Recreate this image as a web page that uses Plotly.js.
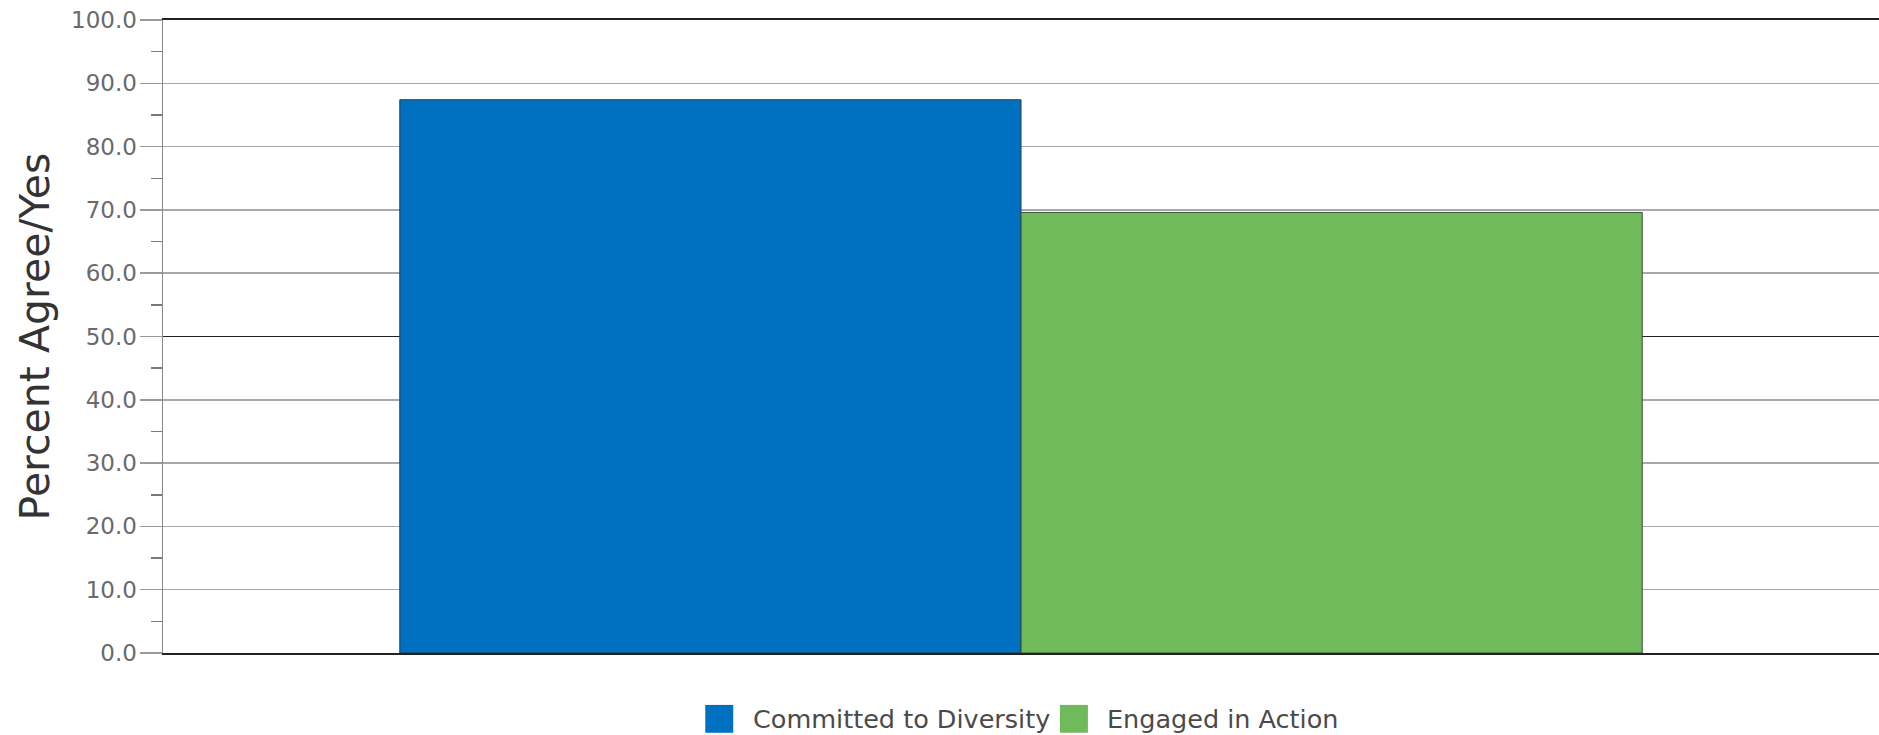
<!DOCTYPE html>
<html>
<head>
<meta charset="utf-8">
<script src="https://cdn.plot.ly/plotly-3.0.1.min.js"></script>
<style>
html,body{margin:0;padding:0;background:#fff;}
#chart{width:1879px;height:735px;}
</style>
</head>
<body>
<div id="chart"></div>
<script>
// ---- data ----
const categories = ["All"];
const seriesNames = ["Committed to Diversity", "Engaged in Action"];
const committedValues = [87.4];
const engagedValues = [69.6];
const seriesColors = ["#0070C0", "#70BA5C"];
const yAxisTitle = "Percent Agree/Yes";
const yTickVals = [0, 10, 20, 30, 40, 50, 60, 70, 80, 90, 100];
const yTickText = yTickVals.map(v => v.toFixed(1));
const darkGridVals = [50];

const font = "DejaVu Sans, Verdana, sans-serif";

const traces = [
  {
    type: "bar", x: categories, y: committedValues, name: seriesNames[0],
    marker: {color: seriesColors[0], line: {color: "#2b3a3a", width: 1}},
    showlegend: false, hoverinfo: "y"
  },
  {
    type: "bar", x: categories, y: engagedValues, name: seriesNames[1],
    marker: {color: seriesColors[1], line: {color: "#3b4a3a", width: 1}},
    showlegend: false, hoverinfo: "y"
  },
  // invisible trace on overlay axis to carry the dark 50 gridline
  {
    type: "scatter", x: categories, y: [null], yaxis: "y2",
    showlegend: false, hoverinfo: "skip"
  }
];

// custom legend (swatches + text) in paper coordinates
const legendY = -0.104;
const sw = 0.0163, sh = 0.044;
const legendItems = [
  {x0: 0.316, tx: 0.3425},
  {x0: 0.5227, tx: 0.549}
];
const shapes = legendItems.map((it, i) => ({
  type: "rect", xref: "paper", yref: "paper",
  x0: it.x0, x1: it.x0 + sw, y0: legendY - sh / 2, y1: legendY + sh / 2,
  fillcolor: seriesColors[i], line: {width: 0}
}));
const annotations = legendItems.map((it, i) => ({
  xref: "paper", yref: "paper", x: it.tx, y: legendY,
  xanchor: "left", yanchor: "middle", showarrow: false,
  text: seriesNames[i], font: {family: font, size: 25.5, color: "#4a4a4a"}
}));

const layout = {
  width: 1879, height: 735,
  margin: {l: 163, r: 0, t: 20, b: 82, pad: 0},
  paper_bgcolor: "#fff", plot_bgcolor: "#fff",
  barmode: "group", bargap: 0.276, bargroupgap: 0,
  showlegend: false,
  xaxis: {
    range: [-0.5, 0.5], showticklabels: false, ticks: "",
    showgrid: false, zeroline: false, showline: true, mirror: true,
    linecolor: "#222", linewidth: 2, fixedrange: true
  },
  yaxis: {
    range: [0, 100], tickvals: yTickVals, ticktext: yTickText,
    ticks: "outside", ticklen: 22, tickwidth: 1.5, tickcolor: "#9a9a9a",
    ticklabelstandoff: -2,
    showgrid: true, gridcolor: "#a8a8a8", gridwidth: 1.5,
    zeroline: false, showline: true, linecolor: "#8a8a8a", linewidth: 1.5,
    tickfont: {family: font, size: 23, color: "#6a6a6a"},
    title: {text: yAxisTitle, font: {family: font, size: 41, color: "#333"}, standoff: 8},
    minor: {dtick: 5, ticks: "outside", ticklen: 11, tickwidth: 1.5, tickcolor: "#7a7a7a", showgrid: false},
    fixedrange: true
  },
  yaxis2: {
    overlaying: "y", range: [0, 100], tickvals: darkGridVals,
    showticklabels: false, ticks: "", showgrid: true,
    gridcolor: "#222", gridwidth: 1.8, zeroline: false, showline: false, fixedrange: true
  },
  shapes: shapes,
  annotations: annotations
};

Plotly.newPlot("chart", traces, layout, {displayModeBar: false, staticPlot: true});
</script>
</body>
</html>
